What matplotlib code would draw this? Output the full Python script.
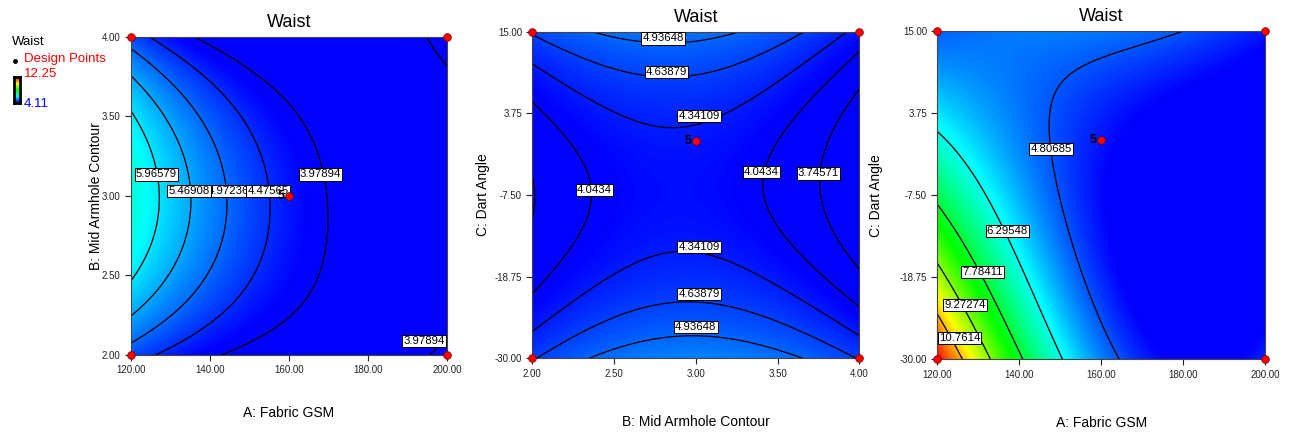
import numpy as np
import matplotlib
matplotlib.use('Agg')
import matplotlib.pyplot as plt
from matplotlib.colors import LinearSegmentedColormap, Normalize
from matplotlib.lines import Line2D

plt.rcParams['font.family'] = ['Liberation Sans', 'DejaVu Sans']

# response range shown in the legend
z_min, z_max = 4.11, 12.25

# factor ranges
gsm_range = [120.0, 200.0]
armhole_range = [2.0, 4.0]
dart_range = [-30.0, 15.0]

gsm_ticks = [120, 140, 160, 180, 200]
armhole_ticks = [2.0, 2.5, 3.0, 3.5, 4.0]
dart_ticks = [-30.0, -18.75, -7.5, 3.75, 15.0]

# contour levels printed on each panel
levels1 = [3.97894, 4.47565, 4.97236, 5.46908, 5.96579]
levels2 = [3.74571, 4.0434, 4.34109, 4.63879, 4.93648]
levels3 = [4.80685, 6.29548, 7.78411, 9.27274, 10.7614]

# fitted surfaces (coded units)
# panel 1: a=(GSM-160)/40, b=Armhole-3  (Dart = 0)
p1_const = [4.287, -1.458, 0.716]
p1_lin_b = [-0.128, 0.025, 0.153]
p1_quad_b = [-0.697, 1.165, 0.122]
# panel 2: u=Armhole-3, v=(Dart+7.5)/22.5  (GSM = 160)
p2_floor = [4.204, -0.14, -0.614]
p2_curv = [0.9, 0.03, 0.04]
p2_shift = [0.04, 0.057]
# panel 3: a=(GSM-160)/40, v=(Dart+7.5)/22.5  (Armhole = 3)
p3_const = [4.191, -2.058, 1.324]
p3_lin_v = [-0.057, 1.801, -1.827]
p3_quad_v = [0.95, -0.042, 0.0]

# design points
pts1_x = [120, 200, 120, 200, 160]
pts1_y = [2.0, 2.0, 4.0, 4.0, 3.0]
pts2_x = [2.0, 4.0, 2.0, 4.0, 3.0]
pts2_y = [-30.0, -30.0, 15.0, 15.0, 0.0]
pts3_x = [120, 200, 120, 200, 160]
pts3_y = [-30.0, -30.0, 15.0, 15.0, 0.0]
center_reps = 5

# contour labels: (x, y, index into the panel's levels), drawn in this order
lab1 = [(144.6, 3.03, 2), (126.5, 3.135, 4), (134.7, 3.03, 3), (154.7, 3.03, 1),
        (168.0, 3.135, 0), (194.2, 2.088, 0)]
lab2 = [(2.80, 14.08, 4), (2.82, 9.49, 3), (3.02, 3.43, 2), (2.38, -6.77, 1),
        (3.40, -4.38, 1), (3.75, -4.52, 0), (3.02, -14.62, 2), (3.02, -21.14, 3),
        (3.0, -25.68, 4)]
lab3 = [(147.7, -1.17, 0), (137.1, -12.41, 1), (131.1, -18.08, 2), (126.7, -22.55, 3),
        (125.4, -27.12, 4)]


def poly(c, x):
    return sum(ci * x ** i for i, ci in enumerate(c))


cmap = LinearSegmentedColormap.from_list(
    'de', ['#0000ff', '#00ffff', '#00ff00', '#ffff00', '#ff0000'])
norm = Normalize(z_min, z_max)

n = 300
gsm = np.linspace(*gsm_range, n)
arm = np.linspace(*armhole_range, n)
dart = np.linspace(*dart_range, n)

# panel 1 surface
G, B = np.meshgrid(gsm, arm)
a, b = (G - 160) / 40, B - 3
Z1 = poly(p1_const, a) + b * poly(p1_lin_b, a) + b ** 2 * poly(p1_quad_b, a)

# panel 2 surface
B2, D2 = np.meshgrid(arm, dart)
u, v = B2 - 3, (D2 + 7.5) / 22.5
Z2 = poly(p2_floor, u) + poly(p2_curv, u) * (v - poly(p2_shift, u)) ** 2

# panel 3 surface
G3, D3 = np.meshgrid(gsm, dart)
a3, v3 = (G3 - 160) / 40, (D3 + 7.5) / 22.5
Z3 = poly(p3_const, a3) + v3 * poly(p3_lin_v, a3) + v3 ** 2 * poly(p3_quad_v, a3)

fig = plt.figure(figsize=(12.89, 4.32), dpi=100)


def panel(rect, X, Y, Z, levels, labs, px, py, xr, yr, xt, yt, xlabel, ylabel, ylab_x, xlab_y):
    ax = fig.add_axes(rect)
    ax.pcolormesh(X, Y, Z, cmap=cmap, norm=norm, shading='gouraud', rasterized=True)
    ax.contour(X, Y, Z, levels=levels, colors='k', linewidths=0.9)
    for lx, ly, li in labs:
        ax.text(lx, ly, '%g' % levels[li], fontsize=8.2, ha='center', va='center', zorder=5,
                clip_on=False,
                bbox=dict(boxstyle='square,pad=0.1', fc='white', ec='black', lw=0.7))
    ax.plot(px, py, 'o', ms=5.5, mfc='red', mec='#800000', mew=0.6, clip_on=False, zorder=10)
    ax.annotate(str(center_reps), (px[-1], py[-1]), xytext=(-3, 0), textcoords='offset points',
                ha='right', va='center', fontsize=9, fontweight='bold', zorder=10)
    ax.set_xlim(xr)
    ax.set_ylim(yr)
    ax.set_xticks(xt)
    ax.set_yticks(yt)
    ax.set_xticklabels([f'{x:.2f}' for x in xt])
    ax.set_yticklabels([f'{y:.2f}' for y in yt])
    ax.tick_params(direction='out', length=4.5, width=0.8, labelsize=7, colors='#222222', pad=3)
    for s in ax.spines.values():
        s.set_color('#444444')
        s.set_linewidth(0.8)
    ax.set_title('Waist', fontsize=13, pad=7)
    ax.set_xlabel(xlabel, fontsize=10)
    ax.set_ylabel(ylabel, fontsize=10)
    ax.xaxis.set_label_coords(0.5, xlab_y)
    ax.yaxis.set_label_coords(ylab_x, 0.5)
    return ax


panel([0.1016, 0.1782, 0.2452, 0.7368], G, B, Z1, levels1, lab1, pts1_x, pts1_y,
      gsm_range, armhole_range, gsm_ticks, armhole_ticks,
      'A: Fabric GSM', 'B: Mid Armhole Contour', -0.089, -0.16)
panel([0.4130, 0.1706, 0.2537, 0.7560], B2, D2, Z2, levels2, lab2, pts2_x, pts2_y,
      armhole_range, dart_range, armhole_ticks, dart_ticks,
      'B: Mid Armhole Contour', 'C: Dart Angle', -0.129, -0.174)
panel([0.7272, 0.1683, 0.2542, 0.7600], G3, D3, Z3, levels3, lab3, pts3_x, pts3_y,
      gsm_range, dart_range, gsm_ticks, dart_ticks,
      'A: Fabric GSM', 'C: Dart Angle', -0.166, -0.173)

# legend block at the top left
W, H = 1289, 432
fig.text(12 / W, 1 - 42 / H, 'Waist', fontsize=9.5, va='center')
fig.add_artist(Line2D([15 / W], [1 - 61 / H], marker='o', ms=2.5, color='k',
                      transform=fig.transFigure))
fig.text(24 / W, 1 - 59 / H, 'Design Points', fontsize=9.5, color='red', va='center')
fig.text(24 / W, 1 - 74 / H, f'{z_max:.2f}', fontsize=9.5, color='red', va='center')
fig.text(24 / W, 1 - 104 / H, f'{z_min:.2f}', fontsize=9.5, color='blue', va='center')
cax = fig.add_axes([14 / W, 1 - 103 / H, 6 / W, 26 / H])
cax.imshow(np.linspace(0, 1, 50).reshape(-1, 1), cmap=cmap, aspect='auto', origin='lower')
cax.set_xticks([])
cax.set_yticks([])
for s in cax.spines.values():
    s.set_linewidth(2)
    s.set_color('black')

plt.savefig('out.png', dpi=100)
